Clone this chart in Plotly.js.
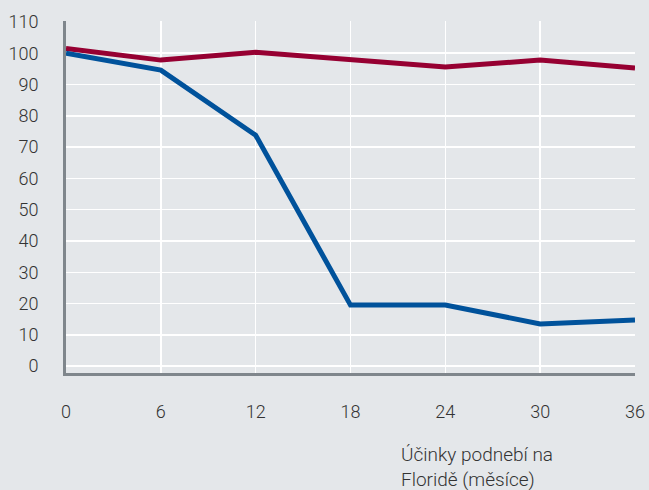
<!DOCTYPE html>
<html>
<head>
<meta charset="utf-8">
<script src="https://cdn.plot.ly/plotly-3.0.1.min.js"></script>
<style>html,body{margin:0;padding:0;background:#e4e7ea;}</style>
</head>
<body>
<div id="chart" style="width:649px;height:490px;"></div>
<script>
const months = [0, 6, 12, 18, 24, 30, 36];
const redSeries = [101.5, 97.8, 100.3, 97.9, 95.6, 97.8, 95.3];
const blueSeries = [100, 94.6, 73.8, 19.5, 19.5, 13.5, 14.7];
const yTicks = [0, 10, 20, 30, 40, 50, 60, 70, 80, 90, 100, 110];
const xTitle = "Účinky podnebí na<br>Floridě (měsíce)";

const fontFamily = "Roboto, 'DejaVu Sans', sans-serif";
const data = [
  {x: months, y: redSeries, type: 'scatter', mode: 'lines',
   line: {color: '#960032', width: 5}, hoverinfo: 'skip'},
  {x: months, y: blueSeries, type: 'scatter', mode: 'lines',
   line: {color: '#00529b', width: 5}, hoverinfo: 'skip'}
];
const layout = {
  width: 649, height: 490,
  paper_bgcolor: '#e4e7ea', plot_bgcolor: '#e4e7ea',
  margin: {l: 66, r: 14, t: 21, b: 117},
  showlegend: false,
  font: {family: fontFamily, size: 18, color: '#333', weight: 300},
  xaxis: {
    range: [0, 36], tickvals: months, ticktext: months.map(String),
    showgrid: true, gridcolor: '#ffffff', gridwidth: 1.5,
    zeroline: false, showline: true, linecolor: '#7f868c', linewidth: 3,
    ticks: '', ticklabelstandoff: 20, fixedrange: true
  },
  yaxis: {
    range: [-2.2, 110.3], tickvals: yTicks, ticktext: yTicks.map(String),
    showgrid: true, gridcolor: '#ffffff', gridwidth: 1.5,
    zeroline: false, showline: true, linecolor: '#7f868c', linewidth: 3,
    ticks: '', ticklabelstandoff: 21, fixedrange: true
  },
  annotations: [{
    text: xTitle, xref: 'paper', yref: 'paper', x: (399-66)/569, y: -0.193,
    xanchor: 'left', yanchor: 'top', align: 'left', showarrow: false,
    font: {family: fontFamily, size: 19, color: '#333', weight: 300}
  }]
};
Plotly.newPlot('chart', data, layout, {displayModeBar: false, staticPlot: true});
</script>
</body>
</html>
